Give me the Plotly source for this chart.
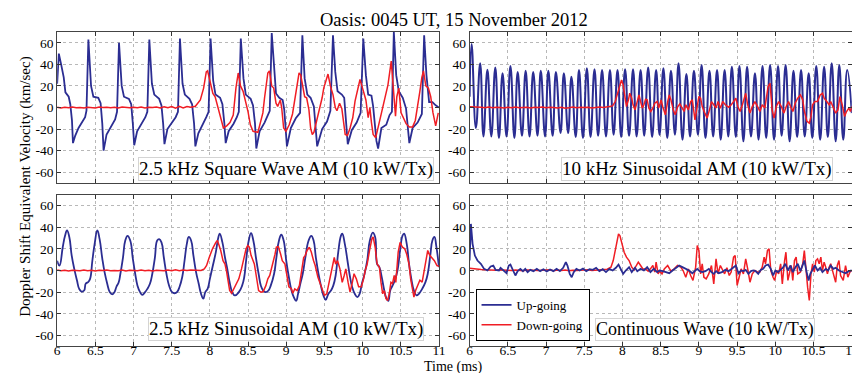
import plotly.graph_objects as go

# ---------------- Panel A: 2.5 kHz Square Wave AM (top-left) ----------------
sq_up_t = [6.000, 6.022, 6.052, 6.086, 6.108, 6.151, 6.172, 6.194, 6.207,
           6.237, 6.280, 6.323, 6.366, 6.384, 6.409,
           6.444, 6.474, 6.539, 6.569, 6.591, 6.608,
           6.647, 6.711, 6.759, 6.784, 6.810,
           6.845, 6.875, 6.940, 6.970, 6.991, 7.009,
           7.047, 7.112, 7.155, 7.181, 7.207,
           7.241, 7.272, 7.336, 7.366, 7.388, 7.405,
           7.444, 7.509, 7.552, 7.582, 7.608,
           7.642, 7.672, 7.733, 7.767, 7.793, 7.810,
           7.849, 7.909, 7.953, 7.983, 8.009,
           8.043, 8.073, 8.134, 8.164, 8.190, 8.207,
           8.246, 8.310, 8.353, 8.379, 8.405,
           8.440, 8.470, 8.534, 8.565, 8.591, 8.608,
           8.651, 8.716, 8.759, 8.784, 8.810,
           8.845, 8.866, 8.909, 8.953, 8.974, 9.009,
           9.060, 9.125, 9.181, 9.211,
           9.241, 9.276, 9.319, 9.362, 9.405,
           9.470, 9.534, 9.578, 9.612,
           9.642, 9.672, 9.728, 9.759, 9.793, 9.806,
           9.858, 9.922, 9.974, 10.009,
           10.043, 10.073, 10.116, 10.138, 10.181, 10.203,
           10.246, 10.310, 10.353, 10.384, 10.409,
           10.440, 10.474, 10.526, 10.569, 10.603, 10.612,
           10.655, 10.720, 10.776, 10.806,
           10.836, 10.871, 10.914, 10.957, 11.000]
sq_up_v = [22, 50, 40, 28, 14, 10, 3, -12, -33,
           -26, -19, -14, -9, -3, 63,
           20, 10, 9, 4, -15, -40,
           -25, -17, -11, -4, 60,
           20, 10, 8, 3, -15, -35,
           -22, -14, -9, -4, 63,
           22, 12, 8, 2, -15, -34,
           -20, -14, -9, -4, 64,
           22, 12, 8, 3, -15, -36,
           -24, -16, -9, -4, 64,
           25, 12, 9, 3, -15, -33,
           -22, -15, -9, -4, 64,
           27, 12, 8, 2, -15, -38,
           -22, -14, -8, -3, 69,
           33, 13, 9, 7, -2, -36,
           -19, -10, -5, 67,
           27, 12, 9, 1, -36,
           -20, -13, -3, 67,
           33, 15, 12, 9, -28, -34,
           -21, -14, -5, 64,
           30, 12, 11, 1, -31, -38,
           -19, -16, -7, -4, 70,
           30, 15, 9, -1, -31, -33,
           -19, -14, -6, 67,
           30, 5, 5, 2, 0]

sq_dn_t = [6.00, 6.05, 6.10, 6.15, 6.20, 6.25, 6.30, 6.35, 6.40, 6.45, 6.50, 6.55,
           6.60, 6.65, 6.70, 6.75, 6.80, 6.85, 6.90, 6.95, 7.00, 7.05, 7.10, 7.15,
           7.20, 7.25, 7.30, 7.35, 7.40, 7.45, 7.50, 7.55, 7.60, 7.65, 7.70, 7.75,
           7.810, 7.875, 7.918, 7.953, 7.970, 8.004, 8.039, 8.069, 8.112, 8.142,
           8.177, 8.220, 8.263, 8.306, 8.341, 8.371, 8.401, 8.435, 8.470, 8.500,
           8.530, 8.565, 8.629, 8.660, 8.694, 8.716, 8.759, 8.780, 8.810, 8.836,
           8.866, 8.888, 8.922, 8.940, 8.966, 8.996, 9.039, 9.082, 9.112, 9.147,
           9.168, 9.190, 9.224, 9.241, 9.267, 9.297, 9.319, 9.341, 9.362, 9.397,
           9.427, 9.448, 9.470, 9.491, 9.526, 9.547, 9.578, 9.612, 9.642, 9.664,
           9.698, 9.728, 9.772, 9.802, 9.836, 9.871, 9.901, 9.935, 9.966, 9.987,
           10.009, 10.043, 10.073, 10.095, 10.116, 10.138, 10.172, 10.203, 10.233,
           10.259, 10.289, 10.332, 10.375, 10.405, 10.431, 10.448, 10.474, 10.504,
           10.534, 10.569, 10.612, 10.655, 10.690, 10.720, 10.750, 10.776, 10.797,
           10.828, 10.862, 10.892, 10.922, 10.957, 10.978, 10.991]
sq_dn_v = [0.3, -0.4, 0.2, -0.3, 0.5, -0.2, 0.1, -0.5, 0.3, 0.0, -0.4, 0.4,
           -0.1, 0.3, -0.3, 0.2, -0.5, 0.4, 0.0, -0.3, 0.3, -0.2, 0.5, -0.4,
           0.2, -0.1, 0.4, -0.5, 0.6, -0.3, 0.8, -0.6, 1.0, -0.4, 0.9, 0.2,
           1.2, 7, 18, 33, 34, 22, 13, 10, -1, -10,
           -19, -17, -14, -7, 18, 32, 20, 15, 6, -4,
           -16, -22, -23, -15, -5, 9, 32, 34, 20, 18,
           4, 1, 7, 0, -19, -22, -16, -6, 7, 24,
           32, 30, 15, 10, 9, -2, -19, -25, -23, -12.6,
           -3.4, 0, 9, 18, 27, 31, 20, 12, 0, -3,
           4, -1, -25, -26, -19, -9.5, 6, 16, 26, 21,
           15, 7, -9.5, 0, -14, -25, -28, -18, -8,
           0, 10, 21, 43, 10, -8, 10, 18, -5,
           -10, -15, -18, -18, -12, 0, 15, 28, 34,
           20, 18, 10, -5, -17, -10, -5]

# ---------------- Panel B: 10 kHz Sinusoidal AM (top-right) ----------------
s10_up_t = [6.000, 6.026, 6.082, 6.138, 6.181, 6.233, 6.284, 6.336, 6.384, 6.431,
            6.483, 6.534, 6.586, 6.629, 6.685, 6.733, 6.784, 6.832, 6.888, 6.931,
            6.987, 7.030, 7.086, 7.129, 7.190, 7.233, 7.289, 7.332, 7.388, 7.431,
            7.483, 7.534, 7.582, 7.634, 7.681, 7.733, 7.784, 7.836, 7.884, 7.935,
            7.983, 8.034, 8.086, 8.138, 8.185, 8.237, 8.284, 8.336, 8.388, 8.440,
            8.485, 8.535, 8.586, 8.634, 8.686, 8.733, 8.785, 8.836, 8.884, 8.935,
            8.987, 9.035, 9.086, 9.138, 9.186, 9.237, 9.285, 9.336, 9.384, 9.431,
            9.483, 9.530, 9.582, 9.630, 9.681, 9.733, 9.780, 9.832, 9.880, 9.931,
            9.983, 10.035, 10.082, 10.134, 10.186, 10.237, 10.285, 10.336, 10.384,
            10.436, 10.483, 10.535, 10.586, 10.638, 10.686, 10.737, 10.789, 10.836,
            10.888, 10.940, 11.000]
s10_up_v = [10, 58.8, -19, 41, -26.8, 35, -26.8, 37, -28.3, 31.7,
            -26.8, 38.5, -28.3, 33, -26.2, 34, -26.8, 33, -26.2, 34,
            -26.8, 34, -26.2, 33, -23.7, 31.7, -23.7, 28.6, -27.4, 34.8,
            -28.3, 36.3, -27.4, 35.4, -26.2, 34.8, -26.8, 34.8, -25.2, 34.8,
            -27.4, 35.4, -26.2, 35.4, -26.8, 34.8, -26.2, 37.2, -27.4, 34.8,
            -25.5, 36.3, -28.3, 34, -25.2, 41, -29.8, 31, -26.8, 34,
            -25.2, 39.4, -28.3, 34, -26.8, 34.8, -29.8, 34.8, -26.8, 37.8,
            -27.4, 38.5, -31.4, 37.8, -26.8, 31.7, -29.8, 38.5, -28.3, 39.4,
            -29.8, 38.5, -26.2, 39.4, -31.4, 34, -27.4, 34.8, -26.8,
            31.7, -28.3, 38.5, -29.8, 37.8, -27.4, 41, -31.4, 39.4,
            -29.8, 34.8, -5.2]

s10_dn_t = [6.00, 6.05, 6.10, 6.15, 6.20, 6.25, 6.30, 6.35, 6.40, 6.45, 6.50, 6.55,
            6.60, 6.65, 6.70, 6.75, 6.80, 6.85, 6.90, 6.95, 7.00, 7.05, 7.10, 7.15,
            7.20, 7.25, 7.30, 7.35, 7.40, 7.45, 7.50, 7.55, 7.60, 7.65, 7.70, 7.75,
            7.80, 7.85,
            7.871, 7.905, 7.935, 7.966, 7.987, 8.009, 8.034, 8.052, 8.078, 8.095,
            8.121, 8.138, 8.164, 8.194, 8.216, 8.237, 8.259, 8.280, 8.302, 8.323,
            8.345, 8.371, 8.397, 8.422, 8.453, 8.474,
            8.505, 8.526, 8.561, 8.591, 8.612, 8.634, 8.664, 8.690, 8.720, 8.750,
            8.785, 8.806, 8.828, 8.862, 8.892, 8.914, 8.948, 8.979, 9.000, 9.022,
            9.043, 9.078, 9.108, 9.138, 9.164, 9.194, 9.224, 9.250, 9.280, 9.311,
            9.345, 9.388, 9.423, 9.453, 9.483, 9.509, 9.539, 9.569, 9.595, 9.612,
            9.638, 9.668, 9.698, 9.733, 9.767, 9.798, 9.828, 9.862, 9.905, 9.931,
            9.957, 9.983, 10.013, 10.043, 10.078, 10.112, 10.142, 10.172, 10.198,
            10.229, 10.259, 10.293, 10.328, 10.358, 10.380, 10.414, 10.444, 10.466,
            10.487, 10.517, 10.552, 10.586, 10.617, 10.638, 10.673, 10.703, 10.724,
            10.759, 10.789, 10.819, 10.845, 10.875, 10.905, 10.931, 10.961, 10.983,
            11.000]
s10_dn_v = [0.8, 0.6, 0.9, 0.3, -0.2, 0.4, -0.3, 0.2, 0.0, -0.4, 0.3, -0.2,
            0.4, -0.3, 0.1, 0.3, -0.4, 0.2, -0.1, 0.4, -0.3, 0.2, 0.0, -0.5,
            0.3, -0.6, -0.2, 0.4, -0.3, 0.2, -0.1, 0.3, -0.4, 0.2, 0.5, 0.1,
            0.6, 0.8,
            1.5, 5.5, 13.2, 20.9, 25.5, 20.9, 7.1, 0.9, 7.1, 13.2,
            8.6, 2.5, -2.2, 7.1, 11.7, 5.5, -0.6, 2.5, 7.7, 7.1,
            -0.6, -3.7, -0.6, 4, 5.5, -0.6,
            7.1, 0.9, -6.8, 5.5, 11.7, 7.1, -2.2, -6.8, 0.3, 3.4,
            -0.6, -3.7, 2.5, -2.2, 5.5, 7.1, -11.4, 2.5, 10.2, 8.6,
            0.9, -5.2, -9.8, -2.2, 5.5, 2.5, -0.6, 5.5, -0.6, 5.5,
            2.5, 0.3, 2.5, 5.5, 8.6, 0.9, -3.7, 2.5, 10.2, 13.2,
            2.5, -5.2, 0.9, 5.5, 0.9, -3.7, 2.5, -0.6, 19.4, 22.5,
            -2.2, -9.8, 0.9, 5.5, 0.9, -5.2, 0.9, 5.5, 0.9,
            -3.7, 4, 8.6, 11.7, 7.1, -3.7, -12.9, -14.5, -8.3,
            2.5, 5.5, 5.5, 11.7, 13.2, 8.6, 5.5, 2.5, 5.5,
            -0.6, -5.2, -2.2, 10.2, 2.5, -8.3, -3.7, -0.6, -3.7,
            0.9]

# ---------------- Panel C: 2.5 kHz Sinusoidal AM (bottom-left) ----------------
s25_up_t = [6.000, 6.030, 6.073, 6.103, 6.129, 6.159, 6.190, 6.224, 6.259, 6.289,
            6.319, 6.353, 6.375, 6.405, 6.431, 6.461, 6.491, 6.526, 6.556, 6.591,
            6.621, 6.655, 6.690, 6.720, 6.750, 6.776, 6.806, 6.828, 6.862, 6.892,
            6.922, 6.957, 6.991, 7.022, 7.052, 7.086, 7.116, 7.151, 7.181, 7.216,
            7.246, 7.280, 7.310, 7.336, 7.366, 7.397, 7.431, 7.466, 7.504, 7.539,
            7.569, 7.603, 7.638, 7.668, 7.698, 7.724, 7.754, 7.784, 7.819, 7.853,
            7.884, 7.914, 7.940, 7.970, 8.000, 8.034, 8.078, 8.112, 8.129, 8.164,
            8.198, 8.228, 8.259, 8.293, 8.328, 8.379, 8.422, 8.450, 8.474, 8.509,
            8.539, 8.569, 8.603, 8.638, 8.668, 8.698, 8.733, 8.767, 8.797, 8.841,
            8.871, 8.905, 8.935, 8.966, 9.000, 9.034, 9.069, 9.099, 9.129, 9.155,
            9.185, 9.216, 9.250, 9.293, 9.328, 9.358, 9.388, 9.422, 9.457, 9.487,
            9.517, 9.552, 9.586, 9.616, 9.647, 9.681, 9.716, 9.733, 9.767, 9.802,
            9.832, 9.862, 9.897, 9.931, 9.961, 9.991, 10.026, 10.060, 10.095,
            10.134, 10.164, 10.190, 10.220, 10.250, 10.284, 10.306, 10.336,
            10.362, 10.392, 10.422, 10.457, 10.491, 10.522, 10.543, 10.578,
            10.608, 10.638, 10.672, 10.707, 10.737, 10.780, 10.823, 10.853,
            10.888, 10.914, 10.940, 10.966, 11.000]
s25_up_v = [9, 4.6, 21.5, 32, 37, 31, 14, 1.5, -9, -17,
            -19.4, -18.5, -12, -10.8, -7.7, 9, 24.6, 37, 29, 11,
            -1.5, -12, -20, -22, -20, -15, -10.8, -3, 12, 27.7,
            32, 27.7, 11, -3, -14, -20, -22.5, -20, -17, -12,
            -3, 12, 27.7, 29, 26, 12, -3, -14, -20, -21,
            -20, -15, -6, 9, 24.6, 31, 27.7, 14, -1.5, -12,
            -21.5, -26, -20, -17, -7.7, 3, 17, 31, 34, 26,
            12, 1.5, -11, -20, -23, -20, -14, -6, 9, 27.7,
            34.5, 27.7, 12, -3, -14, -18.5, -20, -18.5, -14, -3,
            12, 27.7, 33, 27.7, 9, -6, -18.5, -24.6, -28, -21.5,
            -12, -3, 12, 27.7, 32, 27.7, 12, -3, -15, -23,
            -27, -21.5, -18.5, -14, -4.6, 17, 32, 34, 24.6, 9,
            -4.6, -15, -21.5, -24.6, -21.5, -12, -3, 9, 27.7,
            35, 31, 6, 3, -6, -18.5, -24.6, -28,
            -18.5, -14, -9, 0, 18.5, 32, 34, 24.6,
            6, -7.7, -18.5, -23, -21.5, -17, -10.8, -3,
            15, 27.7, 31, 22, 3]

s25_dn_t = [6.00, 6.05, 6.10, 6.15, 6.20, 6.25, 6.30, 6.35, 6.40, 6.45, 6.50, 6.55,
            6.60, 6.65, 6.70, 6.75, 6.80, 6.85, 6.90, 6.95, 7.00, 7.05, 7.10, 7.15,
            7.20, 7.25, 7.30, 7.35, 7.40, 7.45, 7.50, 7.55, 7.60, 7.65, 7.70, 7.75,
            7.80, 7.85,
            7.884, 7.927, 7.957, 7.991, 8.034, 8.078, 8.099, 8.121, 8.142, 8.172,
            8.198, 8.216, 8.241, 8.259, 8.284, 8.315, 8.345, 8.379, 8.414, 8.444,
            8.474, 8.496, 8.517, 8.539, 8.560, 8.582, 8.603, 8.638, 8.668, 8.698,
            8.733, 8.759, 8.784, 8.819, 8.853, 8.871, 8.897, 8.927, 8.948, 8.983,
            9.013, 9.034, 9.069, 9.086, 9.112, 9.142, 9.172, 9.198, 9.228, 9.250,
            9.272, 9.302, 9.328, 9.358, 9.379, 9.414, 9.444, 9.474, 9.500, 9.530,
            9.552, 9.586, 9.608, 9.629, 9.647, 9.672, 9.703, 9.733, 9.759, 9.780,
            9.810, 9.836, 9.862, 9.888, 9.918, 9.948, 9.983, 10.013, 10.034,
            10.060, 10.091, 10.121, 10.138, 10.164, 10.190, 10.220, 10.241,
            10.263, 10.284, 10.306, 10.328, 10.349, 10.371, 10.392, 10.414,
            10.435, 10.466, 10.491, 10.522, 10.552, 10.578, 10.608, 10.629,
            10.651, 10.672, 10.694, 10.716, 10.750, 10.780, 10.810, 10.836,
            10.853, 10.879, 10.909, 10.940, 10.974, 11.000]
s25_dn_v = [0.4, -0.3, 0.2, -0.4, 0.3, 0.0, -0.3, 0.5, -0.2, 0.2, -0.4, 0.3,
            -0.1, 0.4, -0.3, 0.1, -0.2, 0.5, -0.4, 0.2, 0.0, -0.3, 0.4, -0.2,
            0.3, -0.5, 0.2, 0.1, -0.3, 0.4, -0.2, 0.6, -0.3, 0.5, -0.1, 0.4,
            0.2, 0.6,
            0, 1.5, 4.6, 12, 20, 26, 27.7, 23, 18.5, 9,
            6, 0, -12, -18.5, -21, -17, -12, -7.7, 1.5, 12,
            20, 23, 21.5, 14, 9, 6, -3, -18.5, -20, -19.4,
            -14, -7.7, -4.6, 4.6, 15, 21.5, 22, 15, 9, 6,
            -4.6, -15, -17, -21, -17, -18.5, -14, -3, 12, 14,
            18.5, 21.5, 17, 9, 4.6, -6, -12, -18.5, -23, -21.5,
            -14, -3, 4.6, 12, 6, 9, 1.5, -11, -4.6, 1.5,
            -11, -20, -12, -3, -7.7, -15, -15, -7.7, 0,
            6, 18.5, 29, 31, 21.5, 6, 3, -11,
            -21.5, -18.5, -26, -27.7, -21.5, -11, -12, -4.6,
            -11, 17, 26, 21.5, 20, 15, 6, -7.7,
            -18.5, -24.6, -18.5, -14, -9, -10.8, 1.5, 15,
            18.5, 14, 12, 9, 4.6, 4]

# ---------------- Panel D: Continuous Wave (bottom-right) ----------------
cw_up_t = [6.000, 6.017, 6.039, 6.069, 6.103, 6.147, 6.190, 6.233, 6.276, 6.310,
           6.341, 6.384, 6.405, 6.448, 6.483, 6.513, 6.534, 6.569, 6.599, 6.629,
           6.664, 6.698, 6.728, 6.759, 6.793, 6.836, 6.879, 6.922, 6.966, 7.009,
           7.052, 7.095, 7.138, 7.181, 7.224, 7.259, 7.280, 7.310, 7.336, 7.362,
           7.397, 7.440, 7.483, 7.526, 7.569, 7.612, 7.655, 7.698, 7.741, 7.784,
           7.828, 7.871, 7.914, 7.948, 7.978, 8.009, 8.043, 8.086, 8.121, 8.164,
           8.194, 8.237, 8.280, 8.323, 8.366, 8.409, 8.453,
           8.483, 8.526, 8.569, 8.612, 8.655, 8.698, 8.741, 8.784, 8.828, 8.871,
           8.914, 8.948, 8.978, 9.009, 9.043, 9.086, 9.129, 9.164, 9.194, 9.224,
           9.259, 9.302, 9.345, 9.388, 9.422, 9.453, 9.483, 9.517, 9.552, 9.582,
           9.612, 9.647, 9.681, 9.711, 9.741, 9.776, 9.810, 9.841, 9.871, 9.905,
           9.940, 9.970, 10.000, 10.034, 10.069, 10.099, 10.129, 10.164, 10.198,
           10.228, 10.259, 10.293, 10.328, 10.358, 10.379, 10.409, 10.435, 10.457,
           10.487, 10.517, 10.552, 10.586, 10.616, 10.659, 10.690, 10.724, 10.759,
           10.789, 10.832, 10.875, 10.918, 10.961, 11.000]
cw_up_v = [9.2, 43, 24.6, 13.8, 9.2, 6.2, 1.5, 0, 3.7, 4.6,
           0.6, 0, 2.5, -0.6, -2.5, 4.6, 5.5, 0, -4.6, -0.6,
           1.5, -0.6, 1.5, -1.5, 0.6, -0.6, 1.5, -0.6, 1.2, -0.9,
           0.9, -0.6, 1.5, -0.6, 2.5, 7.7, 4.6, -3.1, -6.2, -1.5,
           1.5, 0, 1.8, -0.6, 1.2, 0.6, 2.5, -0.6, 1.2, -1.5,
           1.5, 0, 2.5, 5.5, 1.5, -3.1, 0, 3.1, -1.5, 2.5,
           -0.6, 1.5, 0, 3.1, -1.5, 1.5, -1.5,
           0, -0.6, -1.5, -2.5, 0, 2.5, 4.6, 3.1, 1.5, 0,
           -2.5, -0.6, 1.5, -0.6, -1.5, -0.6, 1.5, -1.5, -3.1, -0.6,
           -2.5, -1.5, 0.6, -0.6, 1.5, 3.1, 4.6, -2.5, 0, -0.6,
           0.6, -3.1, -0.6, 0, -0.6, -3.1, 0.6, 1.5, 4.6, 5.5,
           1.5, -4.6, 0, -1.5, 0.6, 2.5, 6.2, 0, 4.6,
           -1.5, 2.5, 6.2, -0.6, 4.6, 9.2, -1.5, -9.2, -3.1,
           1.5, 4.6, 0, 2.5, -1.5, 1.5, 0, 4.6, 1.5,
           2.5, 0, -1.5, -2.5, -0.6, 0]

cw_dn_t = [6.00, 6.05, 6.10, 6.15, 6.20, 6.25, 6.30, 6.35, 6.40, 6.45, 6.50, 6.55,
           6.60, 6.65, 6.70, 6.75, 6.80, 6.85, 6.90, 6.95, 7.00, 7.05, 7.10, 7.15,
           7.20, 7.25, 7.30, 7.35, 7.40, 7.45, 7.50, 7.55, 7.60, 7.65, 7.70, 7.75,
           7.80,
           7.849, 7.879, 7.914, 7.948, 7.966, 7.991, 8.022, 8.052, 8.086, 8.121,
           8.151, 8.181, 8.207, 8.237, 8.267, 8.302, 8.336, 8.366, 8.397, 8.422,
           8.440, 8.466,
           8.483, 8.517, 8.547, 8.591, 8.634, 8.677, 8.720, 8.763, 8.793, 8.828,
           8.862, 8.892, 8.922, 8.957, 8.978, 9.000, 9.022, 9.043, 9.065, 9.095,
           9.129, 9.164, 9.194, 9.224, 9.250, 9.280, 9.310, 9.336, 9.366, 9.397,
           9.422, 9.453, 9.474, 9.500, 9.526, 9.552, 9.582, 9.612, 9.638, 9.668,
           9.698, 9.733, 9.767, 9.797, 9.828, 9.853, 9.871, 9.897, 9.918, 9.940,
           9.970, 9.991, 10.017, 10.043, 10.069, 10.091, 10.121, 10.138, 10.164,
           10.185, 10.207, 10.228, 10.250, 10.272, 10.293, 10.328, 10.358, 10.379,
           10.401, 10.422, 10.444, 10.466, 10.487, 10.509, 10.530, 10.552, 10.573,
           10.595, 10.616, 10.638, 10.659, 10.681, 10.703, 10.724, 10.759, 10.789,
           10.810, 10.832, 10.853, 10.888, 10.918, 10.948, 10.974, 11.000]
cw_dn_v = [2.0, 1.5, 1.2, 0.9, 0.8, 0.5, 0.7, 0.3, 0.6, 0.2, 0.5, 0.0,
           0.4, 0.3, -0.2, 0.4, 0.1, 0.5, -0.1, 0.3, 0.2, 0.6, -0.2, 0.4,
           0.1, 0.5, -0.3, 0.3, 0.0, 0.4, 0.2, 0.6, 0.1, 0.5, 0.3, 0.8,
           1.2,
           3.1, 9.2, 21.5, 33.8, 32.3, 26.2, 16.9, 12.3, 9.2, 3.1,
           0.6, 4.6, 7.7, 4.6, 1.5, 1.5, -0.6, 1.5, 4.6, -1.5,
           7.7, -3.1,
           -0.6, -3.1, 1.5, 4.6, -0.6, 1.5, 4.6, 3.1, 0, -6.2,
           1.5, -4.6, -9.2, 3.1, 23.1, 18.5, -3.1, 6.2, -6.2, -7.7,
           -3.1, 4.6, -12.3, 10.8, -3.1, 4.6, 0, -3.1, 2.5, -4.6,
           -1.5, 12.3, 13.8, -13.8, -6.2, 1.5, -3.1, 10.8, 1.5, -10.8,
           -3.1, 0, -1.5, -1.5, 3.1, 12.3, 6.2, 18.5, 20, 0,
           -6.2, -9.2, 0, -3.1, 6.2, -12.3, 9.2, 16.9, -9.2,
           -3.1, 4.6, -9.2, 9.2, 12.3, -3.1, -1.5, 6.2, 18.5,
           -3.1, -15.4, -27.7, -3.1, 6.2, -1.5, 9.2, 10.8, 6.2,
           12.3, 0, 7.7, 3.1, -3.1, 3.1, 6.2, -3.1, -10.8,
           4.6, 9.2, -4.6, -9.2, 4.6, -6.2, -1.5, 0]

x_tickvals = [6, 6.5, 7, 7.5, 8, 8.5, 9, 9.5, 10, 10.5, 11]
x_ticktext = ["6", "6.5", "7", "7.5", "8", "8.5", "9", "9.5", "10", "10.5", "11"]
y_tickvals = [-60, -40, -20, 0, 20, 40, 60]
y_ticktext = ["-60", "-40", "-20", "0", "20", "40", "60"]

panel_titles = ["2.5 kHz Square Wave AM (10 kW/Tx)",
                "10 kHz Sinusoidal AM (10 kW/Tx)",
                "2.5 kHz Sinusoidal AM (10 kW/Tx)",
                "Continuous Wave (10 kW/Tx)"]

BLUE = "#2b2d92"
RED = "#f01d24"
FONT = "Liberation Serif, Times New Roman, serif"

fig = go.Figure()


def add(t, v, color, ax, width, shape="linear", name=None, show=False, rank=None):
    line = dict(color=color, width=width, shape=shape)
    if shape == "spline":
        line["smoothing"] = 1.3
    fig.add_trace(go.Scatter(
        x=t, y=v, mode="lines", xaxis="x" + ax, yaxis="y" + ax,
        line=line, name=name, showlegend=show,
        legendrank=rank if rank else 1000, hoverinfo="skip"))


# panel A
add(sq_up_t, sq_up_v, BLUE, "", 1.8, name="Up-going", show=True, rank=1)
add(sq_dn_t, sq_dn_v, RED, "", 1.5, name="Down-going", show=True, rank=2)
# panel B
add(s10_up_t, s10_up_v, BLUE, "2", 2.0, shape="spline")
add(s10_dn_t, s10_dn_v, RED, "2", 1.5)
# panel C
add(s25_up_t, s25_up_v, BLUE, "3", 1.8, shape="spline")
add(s25_dn_t, s25_dn_v, RED, "3", 1.5)
# panel D
add(cw_dn_t, cw_dn_v, RED, "4", 1.5)
add(cw_up_t, cw_up_v, BLUE, "4", 1.8)

W, H = 860, 373
xl = [46.7 / W, 433 / W]
xr = [464 / W, 850.7 / W]
yt = [1 - 175 / H, 1 - 24 / H]
yb = [1 - 338.3 / H, 1 - 186.7 / H]

tickfont = dict(family=FONT, size=13.5, color="black")


def xax(domain, anchor, labels):
    return dict(domain=domain, anchor=anchor, range=[6, 11], tickvals=x_tickvals,
                ticktext=x_ticktext, showticklabels=labels, ticks="inside", ticklen=4,
                tickcolor="#333333", showline=True, mirror="ticks", linecolor="#444444",
                linewidth=1, showgrid=True, gridcolor="#b8b8b8", griddash="dot",
                gridwidth=1, zeroline=False, tickfont=tickfont, ticklabelstandoff=-9)


def yax(domain, anchor):
    return dict(domain=domain, anchor=anchor, range=[-70, 70], tickvals=y_tickvals,
                ticktext=y_ticktext, ticks="inside", ticklen=4, tickcolor="#333333",
                showline=True, mirror="ticks", linecolor="#444444", linewidth=1,
                showgrid=True, gridcolor="#b8b8b8", griddash="dot", gridwidth=1,
                zeroline=False, tickfont=tickfont)


fig.update_layout(
    width=W, height=H,
    margin=dict(l=0, r=0, t=0, b=0),
    paper_bgcolor="white", plot_bgcolor="white",
    font=dict(family=FONT, color="black"),
    xaxis=xax(xl, "y", False), yaxis=yax(yt, "x"),
    xaxis2=xax(xr, "y2", False), yaxis2=yax(yt, "x2"),
    xaxis3=xax(xl, "y3", True), yaxis3=yax(yb, "x3"),
    xaxis4=xax(xr, "y4", True), yaxis4=yax(yb, "x4"),
    legend=dict(x=470 / W, y=1 - 281 / H, xanchor="left", yanchor="top",
                bgcolor="white", bordercolor="black", borderwidth=1,
                font=dict(family=FONT, size=13, color="black"),
                tracegroupgap=0, itemwidth=30),
)

label_pos = [(428, 161), (832, 161), (418, 321), (813, 321)]
label_size = [19, 19, 19, 18]
for txt, (px, py), fs in zip(panel_titles, label_pos, label_size):
    fig.add_annotation(text=txt, x=px / W, y=1 - py / H, xref="paper", yref="paper",
                       xanchor="right", yanchor="middle", showarrow=False,
                       bgcolor="white", bordercolor="#d4d4d4", borderwidth=1, borderpad=0,
                       font=dict(family=FONT, size=fs, color="black"))

fig.add_annotation(text="Oasis: 0045 UT, 15 November 2012", x=448 / W, y=1 - 12 / H,
                   xref="paper", yref="paper", xanchor="center", yanchor="middle",
                   showarrow=False, font=dict(family=FONT, size=18.5, color="black"))
fig.add_annotation(text="Doppler Shift Equivalent Velocity (km/sec)", x=14 / W,
                   y=1 - 178 / H, xref="paper", yref="paper", xanchor="center",
                   yanchor="middle", textangle=-90, showarrow=False,
                   font=dict(family=FONT, size=15, color="black"))
fig.add_annotation(text="Time (ms)", x=448 / W, y=1 - 359 / H, xref="paper",
                   yref="paper", xanchor="center", yanchor="middle", showarrow=False,
                   font=dict(family=FONT, size=14, color="black"))

fig.write_html("out.html")
